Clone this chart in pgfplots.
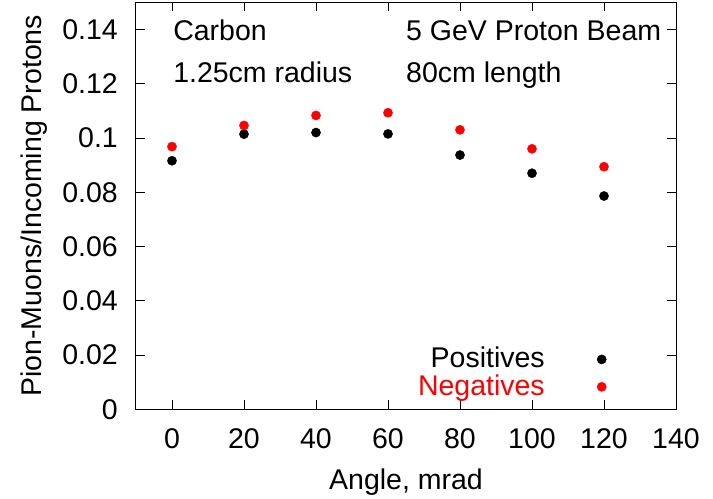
\documentclass[border=0pt]{standalone}
\usepackage{pgfplots}
\pgfplotsset{compat=1.18}
\usepackage{fontspec}
\setmainfont{Liberation Sans}
\newcommand{\bigf}{\fontsize{28.6}{34}\selectfont}
\begin{document}
\bigf
\begin{tikzpicture}
\useasboundingbox (-136bp,-89.7bp) rectangle (577bp,409.3bp);
\begin{axis}[
  scale only axis,
  width=540bp, height=407bp,
  xmin=-10, xmax=140, ymin=0, ymax=0.15,
  xtick={0,20,...,140},
  ytick={0,0.02,0.04,0.06,0.08,0.1,0.12,0.14},
  yticklabels={0,0.02,0.04,0.06,0.08,0.1,0.12,0.14},
  tick align=inside,
  major tick length=9bp,
  axis line style={line width=1bp},
  every tick/.style={black, line width=0.8bp},
  /pgf/number format/assume math mode=true,
  tick label style={font=\bigf},
  xticklabel style={anchor=base, yshift=-38.7bp},
  yticklabel style={anchor=east, inner sep=0pt, xshift=-18bp},
  xlabel={Angle, mrad},
  ylabel={Pion-Muons/Incoming Protons},
  label style={font=\bigf},
  xlabel style={at={(axis description cs:0.5,0)}, anchor=base, yshift=-79.7bp, inner sep=0pt},
  ylabel style={at={(axis description cs:-0.1741,0.5)}, anchor=base, inner sep=0pt},
  legend style={draw=none, fill=none, at={(axis cs:120.7,0.0035)}, anchor=south east,
     legend cell align=right, font=\bigf, row sep=2.5bp, column sep=0pt,
     inner sep=0pt, nodes={inner sep=0pt}},
  legend plot pos=right,
  legend image code/.code={\path[draw=none] (0bp,0bp) -- (57bp,0bp);
     \draw[#1] plot coordinates {(57bp,0.3bp)};},
]
\addplot[only marks, mark=*, mark size=4.6bp, color=black] coordinates {
(0,0.0916) (20,0.1014) (40,0.1020) (60,0.1015) (80,0.0937) (100,0.0870) (120,0.0786)};
\addlegendentry{Positives}
\addplot[only marks, mark=*, mark size=4.6bp, color=red] coordinates {
(0,0.0968) (20,0.1046) (40,0.1083) (60,0.1093) (80,0.1030) (100,0.0960) (120,0.0894)};
\addlegendentry{\textcolor{red}{Negatives}}
\node[anchor=base west, inner sep=0pt] at (axis cs:0.3,0.136) {Carbon};
\node[anchor=base west, inner sep=0pt] at (axis cs:0.3,0.1205) {1.25cm radius};
\node[anchor=base west, inner sep=0pt] at (axis cs:65,0.136) {5 GeV Proton Beam};
\node[anchor=base west, inner sep=0pt] at (axis cs:65,0.1205) {80cm length};
\end{axis}
\end{tikzpicture}
\end{document}
